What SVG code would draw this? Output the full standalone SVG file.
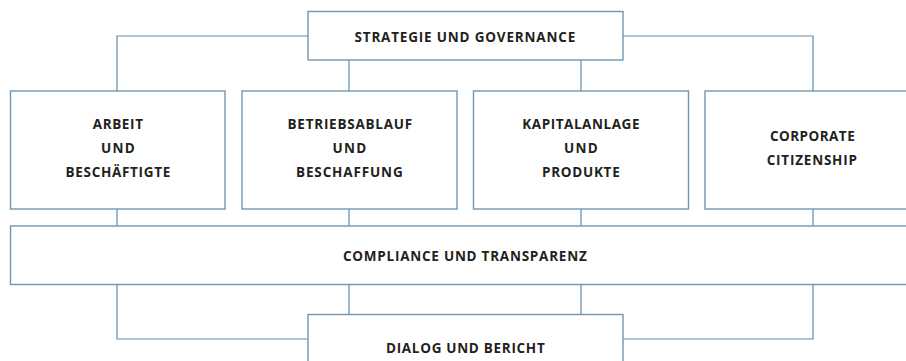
<svg xmlns="http://www.w3.org/2000/svg" width="906" height="361" viewBox="0 0 906 361">
<style>
.box{fill:#ffffff;stroke:#6f97b6;stroke-width:1.4}
.con{fill:none;stroke:#5e89aa;stroke-width:1.2}
.t{font-family:"Open Sans","Liberation Sans",sans-serif;font-weight:700;font-size:13.5px;fill:#231f20;text-anchor:middle;letter-spacing:0.3px}
</style>
<rect width="906" height="361" fill="#ffffff"/>
<g id="connectors">
<path class="con" d="M308,36 H117 V91"/>
<path class="con" d="M623,36 H813 V91"/>
<path class="con" d="M349,60 V91"/>
<path class="con" d="M581,60 V91"/>
<path class="con" d="M117,209 V226"/>
<path class="con" d="M349,209 V226"/>
<path class="con" d="M581,209 V226"/>
<path class="con" d="M813,209 V226"/>
<path class="con" d="M117,285 V339 H308"/>
<path class="con" d="M813,285 V339 H623"/>
<path class="con" d="M349,285 V314"/>
<path class="con" d="M581,285 V314"/>
</g>
<g id="strategie">
<rect class="box" x="308" y="11.5" width="315" height="48.5"/>
<text class="t" x="465" y="41.5" textLength="221" lengthAdjust="spacing">STRATEGIE UND GOVERNANCE</text>
</g>
<g id="arbeit">
<rect class="box" x="10.5" y="91" width="214.5" height="118"/>
<text class="t" x="118" y="128.5" textLength="50.5" lengthAdjust="spacing">ARBEIT</text>
<text class="t" x="118" y="152.5" textLength="34" lengthAdjust="spacing">UND</text>
<text class="t" x="118" y="176.5" textLength="105" lengthAdjust="spacing">BESCHÄFTIGTE</text>
</g>
<g id="betrieb">
<rect class="box" x="242" y="91" width="215" height="118"/>
<text class="t" x="350" y="128.5" textLength="125" lengthAdjust="spacing">BETRIEBSABLAUF</text>
<text class="t" x="349.5" y="152.5" textLength="34" lengthAdjust="spacing">UND</text>
<text class="t" x="349.5" y="176.5" textLength="107" lengthAdjust="spacing">BESCHAFFUNG</text>
</g>
<g id="kapital">
<rect class="box" x="473.5" y="91" width="215" height="118"/>
<text class="t" x="581" y="128.5" textLength="117.5" lengthAdjust="spacing">KAPITALANLAGE</text>
<text class="t" x="581" y="152.5" textLength="34" lengthAdjust="spacing">UND</text>
<text class="t" x="581" y="176.5" textLength="78" lengthAdjust="spacing">PRODUKTE</text>
</g>
<g id="corporate">
<rect class="box" x="705" y="91" width="215" height="118"/>
<text class="t" x="812.5" y="140.5" textLength="85" lengthAdjust="spacing">CORPORATE</text>
<text class="t" x="812" y="164.5" textLength="90.5" lengthAdjust="spacing">CITIZENSHIP</text>
</g>
<g id="compliance">
<rect class="box" x="10.5" y="226" width="910" height="58.5"/>
<text class="t" x="465" y="261" textLength="244" lengthAdjust="spacing">COMPLIANCE UND TRANSPARENZ</text>
</g>
<g id="dialog">
<rect class="box" x="308" y="314.5" width="315" height="60"/>
<text class="t" x="465.5" y="352.5" textLength="159" lengthAdjust="spacing">DIALOG UND BERICHT</text>
</g>
</svg>
